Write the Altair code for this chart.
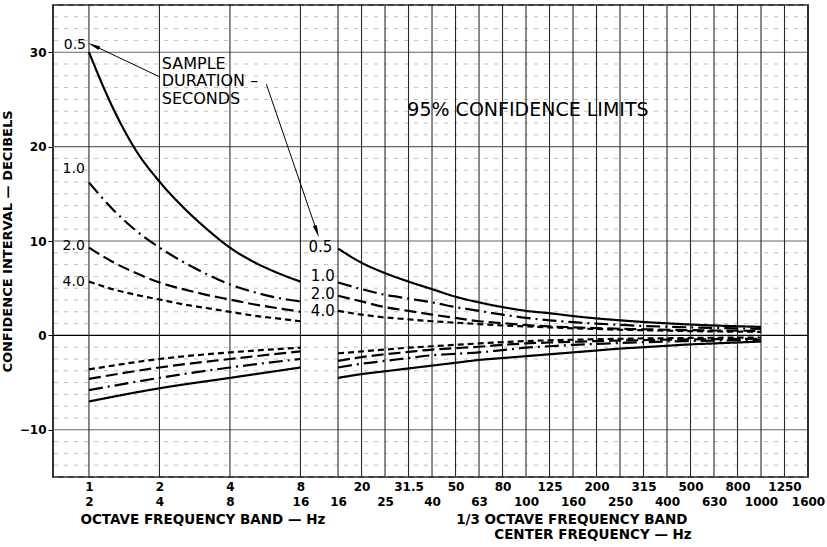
import altair as alt
import pandas as pd

# ---------------- data ----------------
DURATIONS = ["0.5", "1.0", "2.0", "4.0"]

# octave bands (position units: one unit = one third-octave)
OCT_POS = [0, 3, 6, 9]
OCT_LABELS = [["1", "2"], ["2", "4"], ["4", "8"], ["8", "16"]]

THIRD_FREQS = ["16", "20", "25", "31.5", "40", "50", "63", "80", "100", "125",
               "160", "200", "250", "315", "400", "500", "630", "800", "1000",
               "1250", "1600"]

# upper limits, octave section (positions 0..9)
OCT_UP_X = [0, 1, 2, 3, 4, 5, 6, 7, 8, 9]
OCT_UP = {
    "0.5": [30.0, 24.2, 19.6, 16.3, 13.6, 11.3, 9.3, 7.8, 6.65, 5.7],
    "1.0": [16.2, 13.4, 11.1, 9.3, 7.8, 6.5, 5.4, 4.6, 4.0, 3.6],
    "2.0": [9.3, 7.8, 6.6, 5.6, 4.9, 4.3, 3.8, 3.3, 2.9, 2.5],
    "4.0": [5.7, 4.9, 4.3, 3.8, 3.3, 2.9, 2.5, 2.1, 1.8, 1.5],
}
# lower limits, octave section
OCT_LO_X = [0, 3, 6, 9]
OCT_LO = {
    "0.5": [-7.0, -5.6, -4.5, -3.4],
    "1.0": [-5.8, -4.5, -3.4, -2.5],
    "2.0": [-4.6, -3.4, -2.5, -1.7],
    "4.0": [-3.6, -2.5, -1.8, -1.3],
}
# third-octave section, 16 Hz .. 1000 Hz
THIRD_UP = {
    "0.5": [9.2, 7.7, 6.6, 5.7, 4.9, 4.1, 3.5, 3.0, 2.6, 2.35, 2.05, 1.8, 1.6,
            1.42, 1.28, 1.15, 1.05, 0.97, 0.9],
    "1.0": [5.6, 4.9, 4.3, 3.9, 3.5, 3.0, 2.6, 2.2, 1.85, 1.6, 1.4, 1.25, 1.12,
            1.0, 0.92, 0.85, 0.8, 0.75, 0.7],
    "2.0": [4.2, 3.6, 3.0, 2.6, 2.2, 1.85, 1.5, 1.3, 1.1, 0.95, 0.85, 0.78, 0.7,
            0.65, 0.6, 0.56, 0.52, 0.5, 0.48],
    "4.0": [2.6, 2.2, 1.9, 1.7, 1.5, 1.35, 1.2, 1.05, 0.95, 0.85, 0.75, 0.68,
            0.6, 0.55, 0.5, 0.45, 0.42, 0.4, 0.38],
}
THIRD_LO = {
    "0.5": [-4.5, -4.1, -3.8, -3.5, -3.2, -2.9, -2.6, -2.4, -2.2, -2.0, -1.8,
            -1.6, -1.4, -1.25, -1.1, -0.95, -0.85, -0.75, -0.65],
    "1.0": [-3.4, -3.0, -2.7, -2.4, -2.1, -1.95, -1.8, -1.55, -1.3, -1.15, -1.0,
            -0.9, -0.8, -0.72, -0.65, -0.6, -0.55, -0.5, -0.45],
    "2.0": [-2.7, -2.3, -2.0, -1.75, -1.5, -1.35, -1.2, -1.0, -0.85, -0.75,
            -0.68, -0.6, -0.55, -0.5, -0.45, -0.42, -0.4, -0.37, -0.35],
    "4.0": [-1.9, -1.7, -1.5, -1.3, -1.15, -1.0, -0.85, -0.72, -0.6, -0.52,
            -0.46, -0.4, -0.36, -0.32, -0.3, -0.27, -0.25, -0.23, -0.22],
}

# annotations
LEFT_LABEL_X = [-0.6, -0.65, -0.65, -0.65]
LEFT_LABEL_Y = [30.8, 17.6, 9.5, 5.7]
RIGHT_LABEL_X = [9.85, 9.95, 9.95, 9.95]
RIGHT_LABEL_Y = [9.4, 6.3, 4.4, 2.6]
NOTE_LINES = ["SAMPLE", "DURATION \u2013", "SECONDS"]
NOTE_X = 3.1
NOTE_Y = [28.8, 26.9, 25.0]
CONF_TEXT = "95% CONFIDENCE LIMITS"
CONF_X = 13.55
CONF_Y = 23.9
ARROW_X1 = [3.0, 7.55]
ARROW_Y1 = [27.4, 26.6]
ARROW_X2 = [0.2, 9.7]
ARROW_Y2 = [30.7, 11.0]

# ---------------- tables ----------------
third_pos = [round(10.6 + i, 1) for i in range(len(THIRD_FREQS))]

rows = []
for d in DURATIONS:
    for x, y in zip(OCT_UP_X, OCT_UP[d]):
        rows.append({"x": x, "y": y, "dur": d, "seg": d + "ou"})
    for x, y in zip(OCT_LO_X, OCT_LO[d]):
        rows.append({"x": x, "y": y, "dur": d, "seg": d + "ol"})
    for x, y in zip(third_pos, THIRD_UP[d]):
        rows.append({"x": x, "y": y, "dur": d, "seg": d + "tu"})
    for x, y in zip(third_pos, THIRD_LO[d]):
        rows.append({"x": x, "y": y, "dur": d, "seg": d + "tl"})
curves = pd.DataFrame(rows)

tick_pos = OCT_POS + third_pos
tick_keys = [int(round(p * 10)) for p in tick_pos]
tick_lines = list(OCT_LABELS)
for i, f in enumerate(THIRD_FREQS):
    tick_lines.append([f, ""] if i % 2 == 1 else ["", f])

keys_js = "[" + ",".join(str(k) for k in tick_keys) + "]"
labs_js = "[" + ",".join("['%s','%s']" % (a, b) for a, b in tick_lines) + "]"
label_expr = "%s[indexof(%s, round(datum.value*10))]" % (labs_js, keys_js)

FONT = "DejaVu Sans"
W, H = 755, 472

xscale = alt.Scale(domain=[-1.53, 30.6], nice=False, zero=False)
yscale = alt.Scale(domain=[-15, 35], nice=False, zero=False)

x_axis = alt.Axis(values=tick_pos, labelExpr=label_expr, grid=False, ticks=False,
                  domain=False, labelPadding=4, labelFont=FONT, labelFontSize=12,
                  labelFontWeight="bold", labelColor="black", labelLineHeight=15,
                  labelBaseline="top", labelOverlap=False, labelFlush=False,
                  title=None)
y_axis = alt.Axis(values=[-10, 0, 10, 20, 30], grid=False, ticks=True, tickSize=5,
                  tickColor="black", domain=False, labelFont=FONT, labelFontSize=12,
                  labelFontWeight="bold", labelColor="black", labelPadding=2,
                  title="CONFIDENCE  INTERVAL \u2014 DECIBELS", titleFont=FONT,
                  titleFontSize=13, titleFontWeight="bold", titleColor="black",
                  titlePadding=5)

X = alt.X("x:Q", scale=xscale, axis=x_axis)
Y = alt.Y("y:Q", scale=yscale, axis=y_axis)

minor_y = [v * 1.25 for v in range(-12, 29) if (v * 1.25) % 10 != 0]
major_y = [-10, 10, 20, 30]

hminor = alt.Chart(pd.DataFrame({"y": minor_y})).mark_rule(
    color="#a0a0a0", strokeWidth=0.7, strokeDash=[4, 6]).encode(y=Y)
hmajor = alt.Chart(pd.DataFrame({"y": major_y})).mark_rule(
    color="#666666", strokeWidth=1.1).encode(y=Y)
hzero = alt.Chart(pd.DataFrame({"y": [0]})).mark_rule(
    color="black", strokeWidth=1.4).encode(y=Y)
vgrid = alt.Chart(pd.DataFrame({"x": tick_pos})).mark_rule(
    color="#2a2a2a", strokeWidth=1.1).encode(x=X)

lines = alt.Chart(curves).mark_line(
    color="black", strokeWidth=2.2, interpolate="monotone").encode(
    x=X, y=Y, detail="seg:N",
    strokeDash=alt.StrokeDash("dur:N", legend=None, scale=alt.Scale(
        domain=DURATIONS, range=[[1, 0], [14, 5, 2, 5], [12, 5], [6, 4]])))

labels_left = alt.Chart(pd.DataFrame({"x": LEFT_LABEL_X, "y": LEFT_LABEL_Y,
                                      "t": DURATIONS})).mark_text(
    font=FONT, fontSize=14, color="black", align="center", baseline="middle").encode(
    x=X, y=Y, text="t:N")
labels_right = alt.Chart(pd.DataFrame({"x": RIGHT_LABEL_X, "y": RIGHT_LABEL_Y,
                                       "t": DURATIONS})).mark_text(
    font=FONT, fontSize=15, color="black", align="center", baseline="middle").encode(
    x=X, y=Y, text="t:N")

note = alt.Chart(pd.DataFrame({"x": [NOTE_X] * 3, "y": NOTE_Y, "t": NOTE_LINES})).mark_text(
    font=FONT, fontSize=16, color="black", align="left", baseline="middle").encode(
    x=X, y=Y, text="t:N")

conf = alt.Chart(pd.DataFrame({"x": [CONF_X], "y": [CONF_Y], "t": [CONF_TEXT]})).mark_text(
    font=FONT, fontSize=19, color="black", align="left", baseline="middle").encode(
    x=X, y=Y, text="t:N")

arr_df = pd.DataFrame({"x": ARROW_X1, "y": ARROW_Y1, "x2": ARROW_X2, "y2": ARROW_Y2})
arrows = alt.Chart(arr_df).mark_rule(color="black", strokeWidth=1.0).encode(
    x=X, y=Y, x2="x2:Q", y2="y2:Q")

head_shape = "M0,-1L0.32,1L-0.32,1Z"
head1 = alt.Chart(pd.DataFrame({"x": [ARROW_X2[0]], "y": [ARROW_Y2[0]]})).mark_point(
    shape=head_shape, filled=True, color="black", size=160, angle=295, opacity=1).encode(x=X, y=Y)
head2 = alt.Chart(pd.DataFrame({"x": [ARROW_X2[1]], "y": [ARROW_Y2[1]]})).mark_point(
    shape=head_shape, filled=True, color="black", size=160, angle=161, opacity=1).encode(x=X, y=Y)

titles_df = pd.DataFrame({
    "x": [4.85, 20.55, 21.45],
    "t": ["OCTAVE  FREQUENCY  BAND \u2014 Hz", "1/3 OCTAVE FREQUENCY BAND",
          "CENTER FREQUENCY \u2014 Hz"],
    "py": [515, 515, 530],
})
xtitles = alt.Chart(titles_df).mark_text(
    font=FONT, fontSize=13.5, fontWeight="bold", color="black", align="center",
    baseline="middle").encode(x=X, y=alt.Y("py:Q", scale=None), text="t:N")

chart = alt.layer(hminor, hmajor, hzero, vgrid, lines, labels_left, labels_right,
                  note, conf, arrows, head1, head2, xtitles).properties(
    width=W, height=H, autosize="none",
    padding={"left": 53, "top": 5, "right": 19, "bottom": 70},
    background="white",
).configure_view(stroke="black", strokeWidth=1.6)

chart.save("out.html", embed_options={"renderer": "svg", "actions": False})
